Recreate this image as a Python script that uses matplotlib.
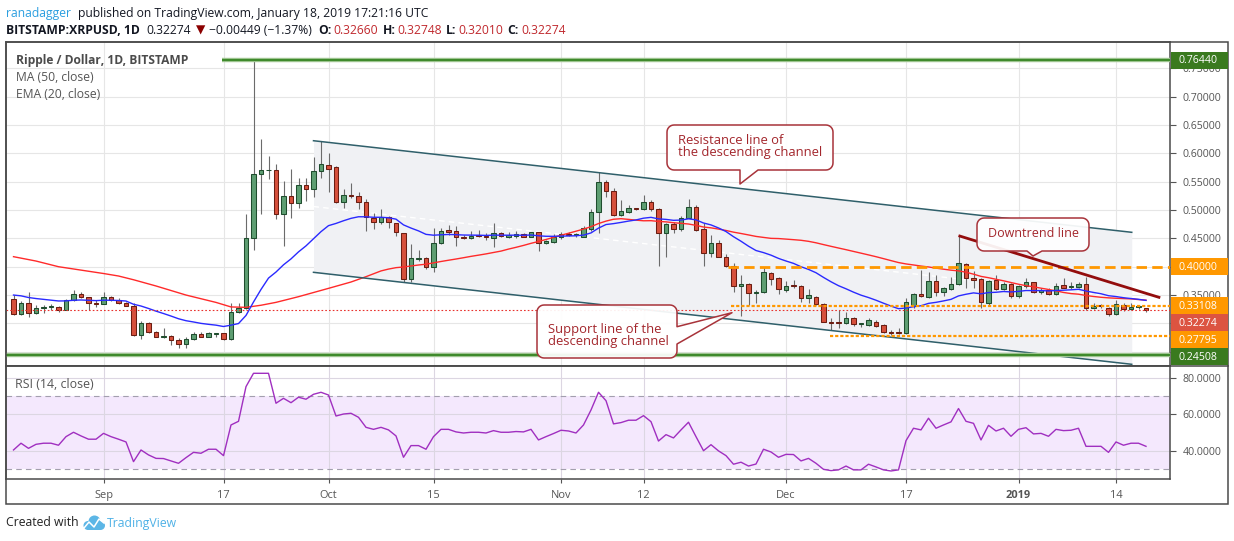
import matplotlib
matplotlib.use('Agg')
import matplotlib.pyplot as plt
from matplotlib.patches import Polygon, Rectangle, Circle
from matplotlib.lines import Line2D
import numpy as np
import pandas as pd

plt.rcParams['font.family'] = ['Open Sans', 'DejaVu Sans']
plt.rcParams['lines.scale_dashes'] = False

# ---------------- data ----------------
dates = pd.date_range('2018-08-20', '2019-01-18', freq='D')

opens = [0.3424, 0.3159, 0.3353, 0.3177, 0.3265, 0.3289, 0.3292, 0.3242, 0.3412, 0.3512,
         0.3459, 0.3353, 0.3350, 0.3471, 0.3412, 0.3353, 0.3312, 0.2794, 0.3012, 0.2853,
         0.2765, 0.2777, 0.2706, 0.2630, 0.2718, 0.2812, 0.2765, 0.2818, 0.2830, 0.2718,
         0.3195, 0.3265, 0.4500, 0.5630, 0.5701, 0.5705, 0.4924, 0.5242, 0.5130, 0.5436,
         0.5377, 0.5683, 0.5789, 0.5754, 0.5136, 0.5260, 0.5256, 0.5148, 0.4854, 0.4795,
         0.4871, 0.4765, 0.4589, 0.3777, 0.4130, 0.4148, 0.3989, 0.4413, 0.4648, 0.4636,
         0.4530, 0.4501, 0.4554, 0.4548, 0.4501, 0.4589, 0.4530, 0.4542, 0.4571, 0.4530,
         0.4607, 0.4413, 0.4430, 0.4518, 0.4577, 0.4560, 0.4530, 0.4665, 0.4960, 0.5489,
         0.5342, 0.4913, 0.4960, 0.5030, 0.5013, 0.5136, 0.5013, 0.4589, 0.4748, 0.4660,
         0.4865, 0.5060, 0.4660, 0.4236, 0.4424, 0.4177, 0.4018, 0.3660, 0.3689, 0.3530,
         0.3560, 0.3883, 0.3795, 0.3590, 0.3677, 0.3659, 0.3442, 0.3471, 0.3336, 0.3030,
         0.3012, 0.3012, 0.3089, 0.2989, 0.2965, 0.3030, 0.2965, 0.2854, 0.2842, 0.2836,
         0.3300, 0.3512, 0.3471, 0.3748, 0.3548, 0.3607, 0.3689, 0.4042, 0.3795, 0.3783,
         0.3365, 0.3765, 0.3601, 0.3689, 0.3483, 0.3660, 0.3724, 0.3560, 0.3589, 0.3512,
         0.3677, 0.3636, 0.3648, 0.3695, 0.3277, 0.3307, 0.3277, 0.3160, 0.3324, 0.3254,
         0.3295, 0.32660]
highs = [0.3500, 0.3400, 0.3548, 0.3324, 0.3324, 0.3336, 0.3312, 0.3424, 0.3589, 0.3548,
         0.3471, 0.3412, 0.3548, 0.3489, 0.3442, 0.3371, 0.3353, 0.3048, 0.3030, 0.2871,
         0.2912, 0.2794, 0.2736, 0.2753, 0.2853, 0.2853, 0.2853, 0.2836, 0.2836, 0.3353,
         0.3353, 0.4930, 0.7644, 0.6254, 0.5954, 0.5807, 0.5512, 0.5724, 0.5571, 0.5560,
         0.5930, 0.6218, 0.6001, 0.5777, 0.5365, 0.5471, 0.5312, 0.5189, 0.4942, 0.5018,
         0.4895, 0.4777, 0.4601, 0.4401, 0.4295, 0.4177, 0.4677, 0.4677, 0.4736, 0.4718,
         0.4560, 0.4636, 0.4648, 0.4589, 0.4765, 0.4618, 0.4618, 0.4630, 0.4589, 0.4618,
         0.4618, 0.4471, 0.4571, 0.4618, 0.4607, 0.4589, 0.4718, 0.5018, 0.5665, 0.5530,
         0.5383, 0.5177, 0.5089, 0.5042, 0.5265, 0.5177, 0.5030, 0.4765, 0.4795, 0.4901,
         0.5195, 0.5089, 0.4765, 0.4560, 0.4471, 0.4218, 0.4060, 0.3854, 0.3707, 0.3589,
         0.4001, 0.3913, 0.3813, 0.3748, 0.3765, 0.3677, 0.3601, 0.3483, 0.3354, 0.3089,
         0.3236, 0.3195, 0.3106, 0.3012, 0.3089, 0.3059, 0.2983, 0.2883, 0.2912, 0.3454,
         0.3540, 0.3942, 0.3901, 0.3854, 0.3648, 0.3824, 0.4548, 0.4059, 0.3924, 0.3795,
         0.3765, 0.3854, 0.3724, 0.3707, 0.3677, 0.3795, 0.3736, 0.3618, 0.3618, 0.3707,
         0.3795, 0.3736, 0.3736, 0.3824, 0.3354, 0.3336, 0.3295, 0.3413, 0.3354, 0.3354,
         0.3324, 0.32748]
lows = [0.3148, 0.3142, 0.3118, 0.3165, 0.3177, 0.3236, 0.3206, 0.3230, 0.3395, 0.3442,
        0.3236, 0.3295, 0.3342, 0.3400, 0.3342, 0.3306, 0.2783, 0.2718, 0.2836, 0.2753,
        0.2736, 0.2618, 0.2559, 0.2559, 0.2706, 0.2753, 0.2760, 0.2765, 0.2706, 0.2706,
        0.3177, 0.3250, 0.4294, 0.4924, 0.5548, 0.4836, 0.4371, 0.4865, 0.5042, 0.5165,
        0.5236, 0.5571, 0.5324, 0.5118, 0.5042, 0.5207, 0.5018, 0.4630, 0.4660, 0.4754,
        0.4689, 0.4548, 0.3736, 0.3736, 0.4101, 0.3954, 0.3913, 0.4395, 0.4560, 0.4365,
        0.4483, 0.4483, 0.4530, 0.4471, 0.4342, 0.4518, 0.4501, 0.4512, 0.4518, 0.4518,
        0.4283, 0.4395, 0.4413, 0.4489, 0.4548, 0.4530, 0.4518, 0.4636, 0.4589, 0.5224,
        0.4901, 0.4901, 0.4942, 0.4995, 0.5001, 0.4989, 0.4018, 0.4177, 0.4601, 0.4630,
        0.4854, 0.4636, 0.4018, 0.4177, 0.4165, 0.4001, 0.3548, 0.3136, 0.3324, 0.3354,
        0.3530, 0.3677, 0.3513, 0.3560, 0.3630, 0.3383, 0.3365, 0.3324, 0.3024, 0.2883,
        0.2912, 0.2989, 0.2954, 0.2942, 0.2954, 0.2942, 0.2824, 0.2795, 0.2812, 0.2818,
        0.3265, 0.3465, 0.3454, 0.3489, 0.3489, 0.3589, 0.3677, 0.3618, 0.3618, 0.3277,
        0.3324, 0.3589, 0.3583, 0.3454, 0.3454, 0.3630, 0.3530, 0.3524, 0.3501, 0.3501,
        0.3618, 0.3607, 0.3630, 0.3236, 0.3254, 0.3277, 0.3136, 0.3148, 0.3218, 0.3236,
        0.3254, 0.32010]
closes = [0.3159, 0.3353, 0.3177, 0.3265, 0.3289, 0.3292, 0.3242, 0.3412, 0.3512, 0.3459,
          0.3353, 0.3350, 0.3471, 0.3412, 0.3353, 0.3312, 0.2794, 0.3012, 0.2853, 0.2765,
          0.2777, 0.2706, 0.2630, 0.2718, 0.2812, 0.2765, 0.2824, 0.2830, 0.2718, 0.3195,
          0.3265, 0.4500, 0.5630, 0.5701, 0.5705, 0.4924, 0.5242, 0.5130, 0.5436, 0.5377,
          0.5683, 0.5812, 0.5730, 0.5136, 0.5260, 0.5256, 0.5148, 0.4871, 0.4795, 0.4871,
          0.4783, 0.4607, 0.3777, 0.4148, 0.4160, 0.3989, 0.4413, 0.4636, 0.4618, 0.4530,
          0.4501, 0.4548, 0.4536, 0.4518, 0.4601, 0.4542, 0.4560, 0.4571, 0.4530, 0.4607,
          0.4413, 0.4454, 0.4530, 0.4577, 0.4565, 0.4571, 0.4677, 0.4960, 0.5489, 0.5342,
          0.4913, 0.4983, 0.5030, 0.5018, 0.5148, 0.5013, 0.4589, 0.4748, 0.4660, 0.4865,
          0.5060, 0.4648, 0.4248, 0.4413, 0.4177, 0.4018, 0.3665, 0.3689, 0.3530, 0.3560,
          0.3901, 0.3777, 0.3601, 0.3665, 0.3660, 0.3442, 0.3501, 0.3336, 0.3030, 0.3001,
          0.3009, 0.3089, 0.2989, 0.2992, 0.3059, 0.2959, 0.2854, 0.2824, 0.2824, 0.3380,
          0.3512, 0.3477, 0.3748, 0.3548, 0.3630, 0.3689, 0.4059, 0.3795, 0.3765, 0.3371,
          0.3748, 0.3601, 0.3689, 0.3483, 0.3660, 0.3724, 0.3560, 0.3589, 0.3512, 0.3654,
          0.3630, 0.3660, 0.3695, 0.3277, 0.3307, 0.3304, 0.3160, 0.3336, 0.3254, 0.3295,
          0.3298, 0.32274]

# MA(50) values for the days before 50 closes exist
ma50_early_idx = [0, 3, 6, 9, 12, 14, 16, 19, 23, 27, 29, 31, 33, 35, 38, 42, 45, 47]
ma50_early_val = [0.4177, 0.4100, 0.4000, 0.3940, 0.3880, 0.3836, 0.3770, 0.3660, 0.3500,
                  0.3370, 0.3290, 0.3283, 0.3320, 0.3371, 0.3471, 0.3618, 0.3730, 0.3824]
ema20_seed = 0.3500

rsi = [40.4, 44.1, 41.3, 43.5, 44.1, 44.1, 43.0, 47.7, 50.1, 48.1,
       46.3, 46.3, 49.5, 47.7, 46.3, 44.8, 34.0, 40.4, 37.7, 35.8,
       35.7, 34.4, 33.1, 36.2, 39.1, 38.6, 40.8, 40.8, 37.3, 54.1,
       56.1, 75.1, 82.4, 82.4, 82.4, 66.0, 68.7, 66.3, 69.3, 68.2,
       70.9, 72.0, 70.5, 59.0, 60.1, 60.5, 58.3, 52.8, 51.7, 52.8,
       51.4, 48.1, 36.4, 42.8, 42.8, 40.8, 47.7, 51.7, 51.7, 50.3,
       49.7, 50.1, 50.1, 49.7, 51.0, 50.1, 50.1, 50.5, 50.3, 51.7,
       45.9, 47.7, 49.4, 51.2, 50.8, 49.7, 54.1, 62.3, 72.0, 67.4,
       54.7, 55.4, 56.7, 56.7, 59.2, 55.9, 45.3, 48.8, 47.0, 51.4,
       55.6, 47.7, 40.0, 43.3, 39.9, 37.3, 32.6, 33.7, 31.6, 32.7,
       40.8, 39.3, 36.4, 38.0, 37.9, 34.4, 35.8, 33.1, 29.8, 29.1,
       29.5, 31.6, 29.5, 29.5, 32.6, 31.1, 29.5, 28.9, 29.5, 45.5,
       52.3, 51.4, 57.8, 52.3, 54.1, 55.8, 63.1, 56.1, 55.0, 45.9,
       53.9, 50.8, 52.3, 47.9, 51.7, 52.6, 49.2, 49.5, 47.9, 51.7,
       51.0, 51.2, 52.3, 42.4, 42.4, 42.4, 39.1, 44.8, 43.0, 44.1,
       44.1, 42.4]

tick_dates = ['2018-09-01', '2018-09-17', '2018-10-01', '2018-10-15', '2018-11-01',
              '2018-11-12', '2018-12-01', '2018-12-17', '2019-01-01', '2019-01-14']
tick_labels = ['Sep', '17', 'Oct', '15', 'Nov', '12', 'Dec', '17', '2019', '14']

price_ticks = [0.25, 0.30, 0.35, 0.40, 0.45, 0.50, 0.55, 0.60, 0.65, 0.70, 0.75]
# tick labels that sit under a price-line label are not shown (as on the chart)
hidden_price_ticks = [0.25, 0.30, 0.40]
rsi_ticks = [40, 60, 80]

level_high = 0.76440
level_low = 0.24508
level_400 = 0.40000
level_331 = 0.33108
level_278 = 0.27795
last_price = 0.32274

# drawings (x in bar index units, y in price)
channel_x = [40.0, 149.1]
channel_upper = [0.6223, 0.4607]
channel_lower = [0.3901, 0.2278]
downtrend_x = [126.0, 152.9]
downtrend_y = [0.4548, 0.3453]
level_high_start = 27.8
level_400_start = 95.3
level_331_start = 95.7
level_278_start = 108.9

# ---------------- figure ----------------
W, H = 1234, 541
fig = plt.figure(figsize=(W / 100, H / 100), dpi=100)


def fx(p):
    return p / W


def fy(p):
    return 1 - p / H


L_PX, R_PX = 6, 1170
MAIN_T, MAIN_B, RSI_B = 42, 366, 479
ax = fig.add_axes([fx(L_PX), fy(MAIN_B), fx(R_PX) - fx(L_PX), fy(MAIN_T) - fy(MAIN_B)])
ax2 = fig.add_axes([fx(L_PX), fy(RSI_B), fx(R_PX) - fx(L_PX), fy(MAIN_B) - fy(RSI_B)])
ov = fig.add_axes([0, 0, 1, 1])
ov.set_xlim(0, W)
ov.set_ylim(H, 0)
ov.axis('off')
ov.patch.set_alpha(0)

n = len(closes)
xi = np.arange(n)
o = np.array(opens); h = np.array(highs); l = np.array(lows); c = np.array(closes)
XMIN, XMAX = -1.0, 154.2
ax.set_xlim(XMIN, XMAX)
ax.set_ylim(0.2248, 0.7965)
ax2.set_xlim(XMIN, XMAX)
ax2.set_ylim(24.5, 86.4)

tick_pos = [dates.get_loc(pd.Timestamp(d)) for d in tick_dates]

GRID = '#e6e6e6'
SPINE = '#4a4a4a'
for a in (ax, ax2):
    for s in a.spines.values():
        s.set_color(SPINE)
        s.set_linewidth(1.1)
    a.set_xticks(tick_pos)
    a.grid(True, color=GRID, linewidth=0.8, zorder=0)
    a.set_axisbelow(True)
    a.yaxis.tick_right()

renderer = fig.canvas.get_renderer()


def fit(s, target, weight='normal'):
    t = fig.text(0, 0, s, fontsize=10, fontweight=weight)
    w = t.get_window_extent(renderer).width
    t.remove()
    return 10 * target / w


fs_axis = fit('0.70000', 39)
ax.set_yticks(price_ticks)
ax.set_yticklabels(['' if any(abs(v - hv) < 1e-9 for hv in hidden_price_ticks) else f'{v:.5f}'
                    for v in price_ticks])
ax.tick_params(axis='y', length=4, width=0.8, color='#555555', pad=5,
               labelsize=fs_axis, labelcolor='#555555')
ax.tick_params(axis='x', length=0, labelbottom=False)
ax2.set_yticks(rsi_ticks)
ax2.set_yticklabels([f'{v:.4f}' for v in rsi_ticks])
ax2.tick_params(axis='y', length=4, width=0.8, color='#555555', pad=5,
                labelsize=fs_axis, labelcolor='#555555')
fs_x = fit('Sep', 19)
ax2.set_xticklabels(tick_labels)
ax2.tick_params(axis='x', length=3, width=0.8, color='#555555', pad=5,
                labelsize=fs_x, labelcolor='#555555')
for t in ax2.get_xticklabels():
    if t.get_text() == '2019':
        t.set_fontweight('bold')

# ---------- channel ----------
ax.fill_between(channel_x, channel_lower, channel_upper, color='#f0f1f4', zorder=1, linewidth=0)
ax.plot(channel_x, channel_upper, color='#2f5f6a', lw=1.1, zorder=6)
ax.plot(channel_x, channel_lower, color='#2f5f6a', lw=1.1, zorder=6)
mid = [(u + d) / 2 for u, d in zip(channel_upper, channel_lower)]
ax.plot(channel_x, mid, color='white', lw=1.0, dashes=(4, 3), zorder=2)

# ---------- candles ----------
up = c >= o
face = np.where(up, '#5e9e72', '#d6503c')
edge = np.where(up, '#1f4d2e', '#6b1d12')
ax.vlines(xi, l, h, color='#6b6b6b', lw=0.8, zorder=3)
bot = np.minimum(o, c)
hgt = np.maximum(np.abs(c - o), 0.0012)
ax.bar(xi, hgt, bottom=bot, width=0.62, color=face, edgecolor=edge, linewidth=0.75, zorder=4)

# ---------- moving averages ----------
ema = np.empty(n)
ema[0] = ema20_seed
k = 2 / 21
for i in range(1, n):
    ema[i] = ema[i - 1] + k * (c[i] - ema[i - 1])
sma = pd.Series(c).rolling(50).mean().to_numpy()
ma_x = list(ma50_early_idx) + list(range(49, n))
ma_y = list(ma50_early_val) + list(sma[49:])
ax.plot(ma_x, ma_y, color='#ff2a2a', lw=1.0, zorder=5)
ax.plot(xi, ema, color='#2a2aff', lw=1.0, zorder=5)

# ---------- horizontal levels ----------
ax.plot([level_high_start, XMAX], [level_high, level_high], color='#a9cc9c', lw=3.2, zorder=6,
        solid_capstyle='butt')
ax.plot([level_high_start, XMAX], [level_high, level_high], color='#3f8a2c', lw=1.6, zorder=6,
        solid_capstyle='butt')
ax.plot([XMIN, XMAX], [level_low, level_low], color='#a9cc9c', lw=3.2, zorder=6,
        solid_capstyle='butt')
ax.plot([XMIN, XMAX], [level_low, level_low], color='#3f8a2c', lw=1.6, zorder=6,
        solid_capstyle='butt')
ax.plot([level_400_start, XMAX], [level_400, level_400], color='#ff9800', lw=2.0,
        dashes=(7.5, 3.8), zorder=6)
ax.plot([level_331_start, XMAX], [level_331, level_331], color='#ff9800', lw=1.6,
        dashes=(2.3, 1.4), zorder=6)
ax.plot([level_278_start, XMAX], [level_278, level_278], color='#ff9800', lw=1.6,
        dashes=(2.3, 1.4), zorder=6)
ax.plot([XMIN, XMAX], [last_price, last_price], color='#e8332e', lw=0.8,
        dashes=(1.2, 1.5), zorder=6)
ax.plot(downtrend_x, downtrend_y, color='#930d0d', lw=2.0, zorder=7, solid_capstyle='butt')

# ---------- RSI ----------
ax2.axhspan(30, 70, color='#f4e8fd', zorder=0.5, linewidth=0)
ax2.grid(True, color='#dcd6e2', linewidth=0.8, zorder=0.8)
ax2.axhline(70, color='#a39fae', lw=0.8, dashes=(4, 3), zorder=1)
ax2.axhline(30, color='#a39fae', lw=0.8, dashes=(4, 3), zorder=1)
ax2.plot(xi, rsi, color='#a02fc0', lw=1.0, zorder=3)


# ---------- overlay (pixel coordinates) ----------
def py(price):
    return H - ax.transData.transform((0, price))[1]


def px_line(x0, y0, x1, y1, **kw):
    ov.add_line(Line2D([x0, x1], [y0, y1], **kw))


# outer frame and divider lines
ov.add_patch(Rectangle((6, 42), 1222, 462, fill=False, ec=SPINE, lw=1.1, zorder=1))
px_line(6, MAIN_B, 1228, MAIN_B, color=SPINE, lw=1.1)

# price labels
labels = [(level_high, '#3a7a1f'), (level_400, '#ff9800'), (level_331, '#ff9800'),
          (last_price, '#dc5441'), (level_278, '#ff9800'), (level_low, '#3a7a1f')]
labels.sort(key=lambda t: py(t[0]))
prev = -100
BOX_H = 17
for val, col in labels:
    yc = py(val)
    if yc < prev + BOX_H:
        yc = prev + BOX_H
    prev = yc
    ov.add_patch(Rectangle((1170.5, yc - BOX_H / 2), 57, BOX_H, fc=col, ec='none', zorder=3))
    ov.text(1178.5, yc + 0.5, f'{val:.5f}', color='white', fontsize=fs_axis, va='center',
            ha='left', zorder=4)

# header
DARK = '#131722'
fs_h1 = fit('published on TradingView.com, January 18, 2019 17:21:16 UTC', 351)
ov.text(6, 13, 'ranadagger', color='#2c9fe0', fontsize=fs_h1, va='center')
ov.text(78, 13, 'published on TradingView.com, January 18, 2019 17:21:16 UTC', color=DARK,
        fontsize=fs_h1, va='center')
fs_h2 = fit('BITSTAMP:XRPUSD, 1D', 134, 'bold')
RED = '#c0282d'
pieces = [(6, 'BITSTAMP:XRPUSD, 1D', 'bold', DARK), (146, '0.32274', 'normal', DARK),
          (196, '\u25bc', 'normal', '#8b0000'), (209, '\u22120.00449 (\u22121.37%)', 'normal', DARK),
          (318.6, 'O:', 'bold', DARK), (333, '0.32660', 'normal', RED),
          (383, 'H:', 'bold', DARK), (397, '0.32748', 'normal', RED),
          (446, 'L:', 'bold', DARK), (458.5, '0.32010', 'normal', RED),
          (507, 'C:', 'bold', DARK), (521, '0.32274', 'normal', RED)]
for x, s, wgt, col in pieces:
    ov.text(x, 30, s, color=col, fontsize=fs_h2, fontweight=wgt, va='center',
            family=['Open Sans', 'DejaVu Sans'])

# pane legends
ov.text(15.7, 60.7, 'Ripple / Dollar, 1D, BITSTAMP', color='#4b4b4b',
        fontsize=fit('Ripple / Dollar, 1D, BITSTAMP', 173, 'bold'), fontweight='bold', va='center')
fs_leg = fit('MA (50, close)', 78)
ov.text(15.7, 77.7, 'MA (50, close)', color='#555555', fontsize=fs_leg, va='center')
ov.text(15.7, 94.5, 'EMA (20, close)', color='#555555', fontsize=fs_leg, va='center')
ov.text(15, 384, 'RSI (14, close)', color='#555555', fontsize=fit('RSI (14, close)', 78),
        va='center')


# callouts
def callout(x0, y0, x1, y1, side, pts, r=7):
    def arc(cx, cy, a0, a1, m=7):
        a = np.radians(np.linspace(a0, a1, m))
        return [(cx + r * np.cos(t), cy + r * np.sin(t)) for t in a]
    P = []
    P += arc(x0 + r, y0 + r, 180, 270)
    P += arc(x1 - r, y0 + r, 270, 360)
    if side == 'right':
        P += pts
    P += arc(x1 - r, y1 - r, 0, 90)
    if side == 'bottom':
        P += pts
    P += arc(x0 + r, y1 - r, 90, 180)
    ov.add_patch(Polygon(P, closed=True, fc=(1, 1, 1, 0.93), ec='#a8333a', lw=1.1,
                         joinstyle='round', zorder=5))


CT = '#a3262c'
callout(667, 125, 833, 170, 'bottom', [(758, 170), (740, 184), (740, 170)])
fs_c = fit('Resistance line of', 105)
ov.text(678, 140.7, 'Resistance line of', color=CT, fontsize=fs_c, va='center', zorder=6)
ov.text(678, 152.7, 'the descending channel', color=CT, fontsize=fs_c, va='center', zorder=6)
callout(537, 305, 677, 358, 'right', [(677, 326.7), (732, 312.7), (677, 344)])
ov.text(547.7, 329.3, 'Support line of the', color=CT, fontsize=fs_c, va='center', zorder=6)
ov.text(547.7, 341.3, 'descending channel', color=CT, fontsize=fs_c, va='center', zorder=6)
callout(977, 218, 1089, 251, 'bottom', [(1042, 251), (1033, 256), (1027, 251)])
ov.text(1033.5, 233.5, 'Downtrend line', color=CT, fontsize=fit('Downtrend line', 90),
        va='center', ha='center', zorder=6)

# footer
fs_f = fit('Created with', 73)
ov.text(6, 523, 'Created with', color='#222222', fontsize=fs_f, va='center')
LOGO = '#5cb6e6'
for (cx, cy, rr) in [(88, 525.5, 4.5), (94.5, 521.5, 6), (100.5, 525.5, 4.5)]:
    ov.add_patch(Circle((cx, cy), rr, fc=LOGO, ec='none', zorder=3))
ov.add_patch(Rectangle((88, 524), 12.5, 6, fc=LOGO, ec='none', zorder=3))
ov.add_line(Line2D([84, 89, 94, 99, 104], [528, 522, 527, 519, 523], color='white', lw=1.1,
                   zorder=4))
ov.text(106.7, 523, 'TradingView', color='#4fb1e6', fontsize=fit('TradingView', 70), va='center')

fig.savefig('out.png', dpi=100)
